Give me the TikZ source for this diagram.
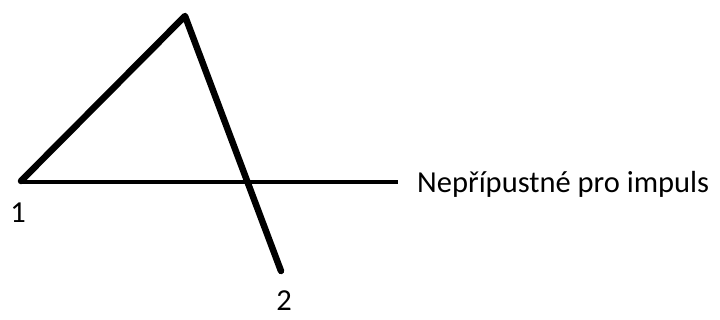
\documentclass[tikz,border=0pt]{standalone}
\usepackage{fontspec}
\setmainfont{Carlito}
\begin{document}
\begin{tikzpicture}[x=1pt,y=-1pt,
  thickline/.style={line width=6.5pt,line cap=round,line join=round},
  thinline/.style={line width=4pt},
  lbl/.style={font=\fontsize{30.5}{34}\selectfont,inner sep=0pt}]
\useasboundingbox (0,0) rectangle (720,320);
\coordinate (p1) at (21,181);
\coordinate (apex) at (185,16);
\coordinate (p2) at (281,271);
\coordinate (hs) at (22,182);
\coordinate (he) at (398,182);
\draw[thickline] (p1) -- (apex) -- (p2);
\draw[thinline] (hs) -- (he);
\node[lbl,anchor=base west] (t) at (417,193) {Nepřípustné pro impuls};
\node[lbl,anchor=base] (n1) at (18,223) {1};
\node[lbl,anchor=base,text depth=0pt] (n2) at (284,311) {2};
\end{tikzpicture}
\end{document}
